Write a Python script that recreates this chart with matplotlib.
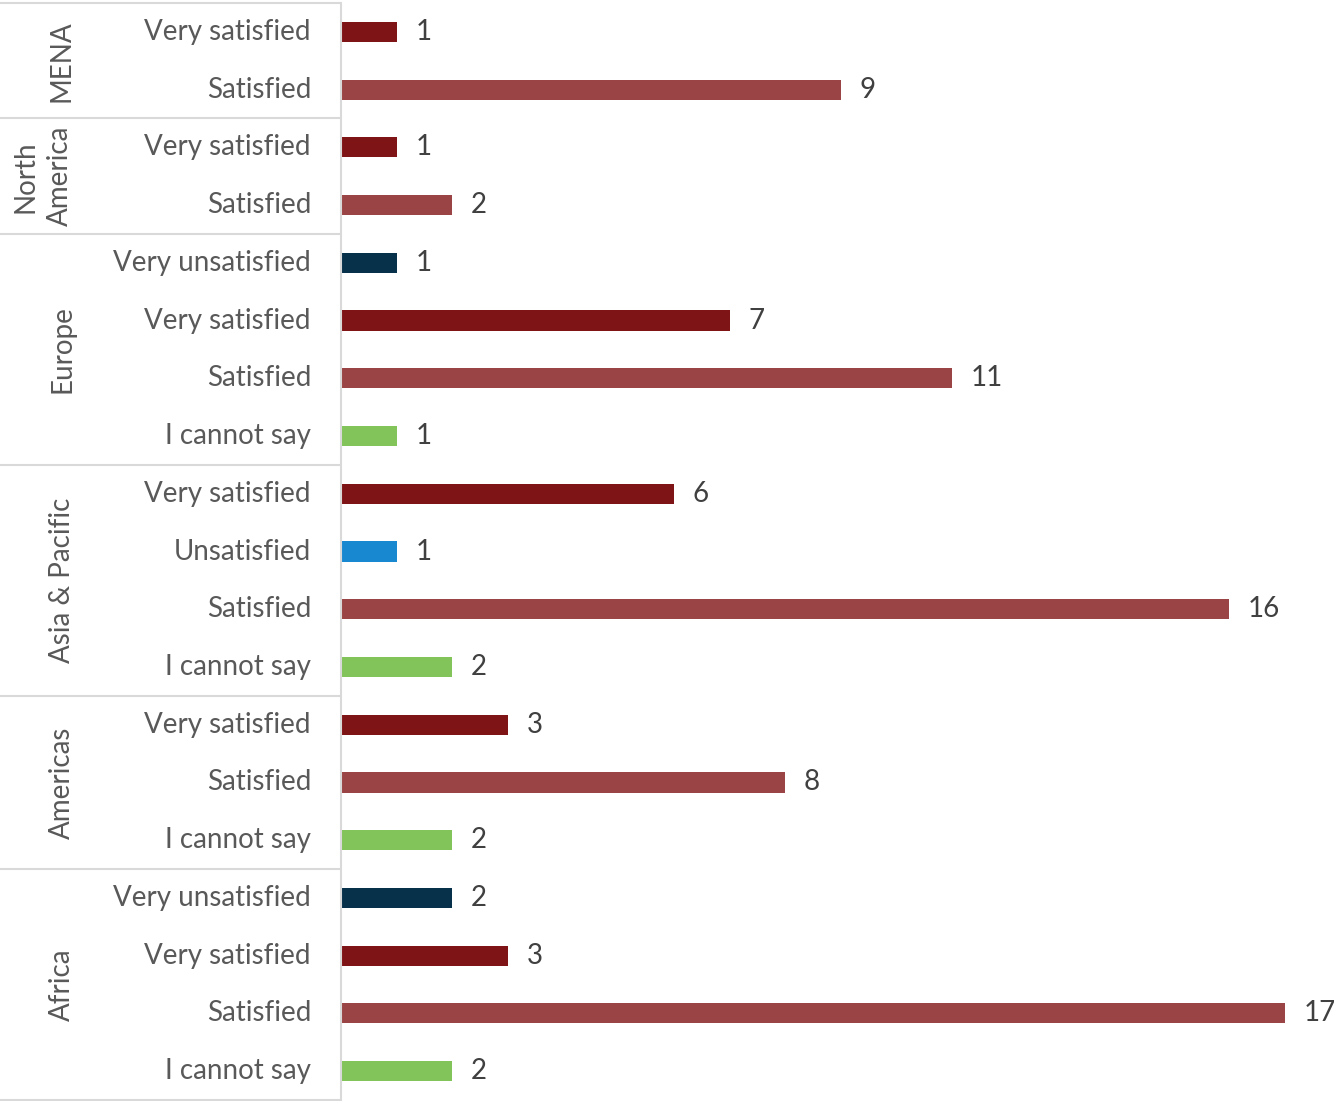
import numpy as np
import matplotlib.pyplot as plt
import matplotlib.transforms as mtransforms

# Datos (de arriba hacia abajo)
groups = ["MENA", "North\nAmerica", "Europe", "Asia & Pacific", "Americas", "Africa"]
group_cats = [
    ["Very satisfied", "Satisfied"],
    ["Very satisfied", "Satisfied"],
    ["Very unsatisfied", "Very satisfied", "Satisfied", "I cannot say"],
    ["Very satisfied", "Unsatisfied", "Satisfied", "I cannot say"],
    ["Very satisfied", "Satisfied", "I cannot say"],
    ["Very unsatisfied", "Very satisfied", "Satisfied", "I cannot say"],
]
group_vals = [
    [1, 9],
    [1, 2],
    [1, 7, 11, 1],
    [6, 1, 16, 2],
    [3, 8, 2],
    [2, 3, 17, 2],
]

colors = {
    "Very satisfied": "#7f1416",
    "Satisfied": "#9b4445",
    "Very unsatisfied": "#07304a",
    "Unsatisfied": "#1888d0",
    "I cannot say": "#82c35a",
}

plt.rcParams['font.family'] = ['Lato', 'DejaVu Sans']
W, H = 1334, 1101
fig = plt.figure(figsize=(W/100, H/100), dpi=100)
ax = fig.add_axes([341/W, 1/H, (W-341)/W, 1097/H])

cats = [c for g in group_cats for c in g]
vals = [v for g in group_vals for v in g]
n = len(cats)
ypos = np.arange(n)

ax.barh(ypos, vals, height=0.35, color=[colors[c] for c in cats])
ax.set_ylim(n - 0.5, -0.5)
ax.set_xlim(0, (W-341)/55.5)

txtcol = "#595959"
fs = 20
for y, v in zip(ypos, vals):
    ax.annotate(str(v), (v, y), xytext=(19, 0), textcoords='offset pixels',
                ha='left', va='center', fontsize=fs, color="#404040")

for s in ax.spines.values():
    s.set_visible(False)
ax.set_xticks([])
ax.set_yticks([])

trans = mtransforms.blended_transform_factory(fig.transFigure, ax.transData)
linecol = "#d9d9d9"
# linea vertical del eje
ax.plot([0, 0], [-0.5, n - 0.5], color=linecol, lw=1.5, clip_on=False)

start = 0
bounds = [-0.5]
for g, cl in zip(groups, group_cats):
    k = len(cl)
    center = start + (k - 1) / 2
    gx = 43/W if "\n" in g else 62/W
    t = fig.text(gx, 0, g, transform=trans, rotation=90, ha='center', va='center',
                 fontsize=fs, color=txtcol, linespacing=1.4)
    t.set_y(center)
    for i, c in enumerate(cl):
        ax.text(311/W, start + i, c, transform=trans, ha='right', va='center',
                fontsize=fs, color=txtcol)
    start += k
    bounds.append(start - 0.5)

for b in bounds:
    ax.plot([0, 340/W], [b, b], transform=trans, color=linecol, lw=1.5, clip_on=False)

fig.savefig("out.png", dpi=100)
